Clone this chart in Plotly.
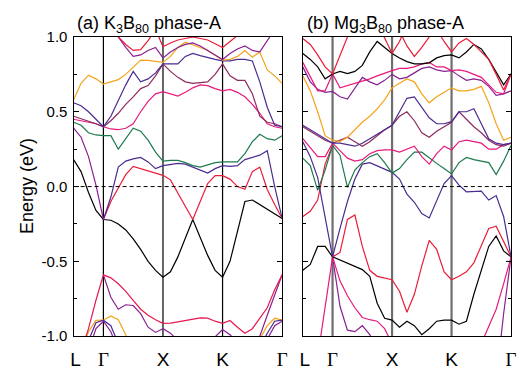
import plotly.graph_objects as go

N = None
# k-path positions (L, Gamma, X, K, Gamma) sampled grid
K = [0.0, 0.125, 0.25, 0.375, 0.5, 0.625, 0.75, 0.875, 1.0, 1.125, 1.25, 1.375, 1.5,
     1.625, 1.75, 1.875, 2.0, 2.125, 2.25, 2.375, 2.5, 2.625, 2.75, 2.875, 3.0,
     3.125, 3.25, 3.375, 3.5]
SYM_K = [0.0, 0.5, 1.5, 2.5, 3.5]
SYM_INNER = [0.5, 1.5, 2.5]
GAMMA = "<span style='font-family:Liberation Serif, Times New Roman, serif'>\u0393</span>"
SYM_LABELS = ["\u2009L", GAMMA, "X", "K", GAMMA]
Y_TICKS = [-1.0, -0.5, 0.0, 0.5, 1.0]
Y_TICK_TEXT = ["-1.0", "-0.5", "0.0", "0.5", "1.0"]
Y_MINOR = [-0.75, -0.25, 0.25, 0.75]

BLACK = "#000000"
RED = "#eb1c38"
PINK = "#e8197c"
VIOLET = "#8a1f93"
INDIGO = "#4b2b91"
PLUM = "#8d2a5e"
GREEN = "#1c7a4d"
ORANGE = "#f5a31a"

# ---------- panel (a) K3B80 ----------
A_BLACK = [0.18, 0.10, -0.04, -0.16, -0.22, -0.225, -0.25, -0.29, -0.35, -0.42, -0.50, -0.56, -0.606,
           -0.57, -0.47, -0.34, -0.22, -0.34, -0.46, -0.56, -0.606, -0.50, -0.30, -0.10, -0.09,
           -0.12, -0.15, -0.18, -0.213]
A_RED = [N, N, N, N, -0.22, -0.10, -0.01, 0.08, 0.135, 0.12, 0.10, 0.085, 0.075,
         0.045, -0.045, -0.13, -0.22, -0.10, 0.02, 0.073, 0.073, 0.05, 0.0, -0.018, 0.10,
         0.13, -0.02, -0.12, -0.213]
A_PURPLE = [0.39, 0.33, 0.20, 0.01, -0.22, N, N, N, N, N, N, N, N,
            N, N, N, N, N, N, N, N, N, N, N, N, N, N, N, N]
A_INDIGO_LOW = [N, N, N, N, -0.22, -0.07, 0.13, 0.17, 0.185, 0.195, 0.165, 0.12, 0.14,
                0.15, 0.155, 0.15, 0.13, 0.11, 0.09, 0.12, 0.14, 0.135, 0.14, 0.18, 0.195,
                0.21, 0.24, 0.0, -0.213]
A_GREEN = [0.43, 0.41, 0.36, 0.345, 0.34, 0.34, 0.25, 0.32, 0.39, 0.37, 0.31, 0.23, 0.17,
           0.175, 0.175, 0.16, 0.14, 0.13, 0.145, 0.16, 0.165, 0.165, 0.165, 0.22, 0.30,
           0.35, 0.32, 0.31, 0.34]
A_PINK = [0.45, 0.44, 0.43, 0.42, 0.40, 0.385, 0.38, 0.39, 0.42, 0.50, 0.57, 0.62, 0.635,
          0.62, 0.605, 0.63, 0.66, 0.68, 0.675, 0.655, 0.64, 0.65, 0.63, 0.60, 0.55,
          0.49, 0.42, 0.40, 0.39]
A_PLUM = [0.47, 0.455, 0.44, 0.42, 0.40, 0.44, 0.49, 0.55, 0.60, 0.655, 0.675, 0.74, 0.82,
          0.77, 0.73, 0.70, 0.69, 0.695, 0.70, 0.75, 0.82, 0.74, 0.71, 0.71, 0.62,
          0.47, 0.43, 0.42, 0.40]
A_INDIGO_UP = [0.56, 0.54, 0.50, 0.45, 0.40, 0.47, 0.58, 0.68, 0.77, 0.70, 0.72, 0.76, 0.82,
               0.82, 0.82, 0.87, 0.89, 0.875, 0.86, 0.85, 0.84, 0.84, 0.85, 0.85, 0.84,
               0.70, 0.53, 0.41, 0.40]
A_ORANGE = [0.58, 0.69, 0.745, 0.72, 0.685, 0.70, 0.715, 0.75, 0.80, 0.845, 0.843, 0.835, 0.83,
            0.87, 0.93, 0.965, 0.95, 0.93, 0.91, 0.88, 0.845, 0.85, 0.87, 0.91, 0.865,
            0.90, 0.78, 0.74, 0.69]
A_VIOLET_TOP = [N, N, N, N, N, 1.1, 1.0, 0.93, 0.87, 0.88, 0.91, 0.93, 0.86,
                0.90, 0.93, 0.95, 0.96, 0.94, 0.91, 0.88, 0.85, 0.89, 0.92, 0.94, 0.91,
                0.90, 0.98, 1.05, 1.1]
A_RED_TOP = [N, N, N, N, N, 1.1, 1.0, 0.95, 0.91, 0.915, 0.975, 1.05, 1.1,
             N, N, N, N, N, N, N, N, N, N, N, N, N, N, N, N]
A_RED_TOP2 = [N, N, N, N, N, N, N, N, N, N, N, 1.05, 0.935,
              0.96, 0.98, 0.99, 1.0, 0.99, 0.98, 0.955, 0.93, 0.97, 1.01, 1.05, N,
              N, N, N, N]
A_PINKRED_LOW = [-1.2, -1.1, -0.95, -0.76, -0.59, -0.61, -0.65, -0.70, -0.76, -0.82, -0.86, -0.89, -0.914,
                 -0.913, -0.905, -0.895, -0.885, -0.878, -0.88, -0.90, -0.914, -0.895, -0.94, -0.98, -0.95,
                 -0.88, -0.81, -0.69, -0.59]
A_VIOLET_LOW = [N, N, N, N, -0.59, -0.74, -0.82, -0.79, -0.795, -0.85, -0.94, -0.975, -0.95,
                -0.98, -1.03, -1.1, -1.15, -1.1, -1.05, -1.0, -0.956, -0.99, -1.05, -1.1, -1.1,
                -1.0, -0.86, -0.73, -0.59]
A_ORANGE_LOW = [N, -1.1, -0.97, -0.895, -0.893, -0.865, -0.89, -0.99, -1.15, N, N, N, N,
                N, N, N, N, N, N, N, N, N, N, N, -1.15,
                -1.02, -0.93, -0.88, -0.893]
A_INDIGO_DOME = [N, N, -1.03, -0.91, -0.893, -0.93, -1.05, N, N, N, N, N, N,
                 N, N, N, N, N, N, N, N, N, N, N, N,
                 -1.08, -0.98, -0.90, -0.893]
A_PLUM_DOME = [N, N, -1.1, -0.95, -0.90, -0.97, -1.1, N, N, N, N, N, N,
               N, N, N, N, N, N, N, N, N, N, N, N,
               -1.1, -1.02, -0.93, -0.90]

# ---------- panel (b) Mg3B80 ----------
B_BLACK_TOP = [0.89, 0.85, 0.80, 0.72, 0.753, 0.77, 0.755, 0.77, 0.81, 0.90, 0.97, 0.93, 0.89,
               0.86, 0.835, 0.82, 0.82, 0.827, 0.86, 0.875, 0.88, 0.86, 0.90, 0.95, 0.92,
               0.85, 0.76, 0.68, 0.753]
B_RED_TOP = [0.99, 0.95, 0.88, 0.80, 0.753, 0.88, 1.0, 1.1, 1.2, 1.2, 1.1, 0.99, 0.89,
             0.97, 1.08, 1.2, 1.2, 1.1, 1.05, 0.97, 0.90, 0.96, 0.99, 0.95, 0.90,
             0.85, 0.75, 0.645, 0.753]
B_RED_TOP2 = [N, N, N, N, N, N, N, N, N, N, N, N, N,
              1.04, 0.94, 0.87, 0.93, 1.0, 1.08, N, N, N, N, N, N,
              N, N, N, N]
B_PINK_UP = [0.83, 0.73, 0.64, 0.64, 0.753, 0.66, 0.675, 0.69, 0.70, 0.72, 0.74, 0.76, 0.775,
             0.79, 0.79, 0.80, 0.82, 0.83, 0.80, 0.80, 0.775, 0.78, 0.77, 0.75, 0.73,
             0.68, 0.63, 0.62, 0.753]
B_VIOLET_UP = [0.80, 0.70, 0.65, 0.63, 0.636, 0.60, 0.585, 0.66, 0.73, 0.70, 0.68, 0.71, 0.75,
               0.72, 0.73, 0.76, 0.79, 0.80, 0.78, 0.77, 0.775, 0.74, 0.71, 0.72, 0.71,
               0.67, 0.61, 0.62, 0.64]
B_ORANGE = [0.74, 0.64, 0.50, 0.34, 0.31, 0.30, 0.33, 0.38, 0.43, 0.47, 0.52, 0.58, 0.66,
            0.69, 0.72, 0.70, 0.62, 0.56, 0.60, 0.63, 0.66, 0.64, 0.64, 0.65, 0.67,
            0.56, 0.42, 0.31, 0.33]
B_INDIGO_MID = [0.41, 0.38, 0.35, 0.32, 0.29, 0.29, 0.28, 0.27, 0.29, 0.32, 0.35, 0.38, 0.41,
                0.50, 0.59, 0.60, 0.53, 0.46, 0.42, 0.42, 0.434, 0.50, 0.50, 0.52, 0.42,
                0.32, 0.29, 0.28, 0.29]
B_PLUM_MID = [0.40, 0.37, 0.34, 0.31, 0.29, 0.31, 0.33, 0.30, 0.27, 0.30, 0.34, 0.38, 0.41,
              0.47, 0.50, 0.44, 0.36, 0.33, 0.37, 0.40, 0.43, 0.50, 0.45, 0.40, 0.36,
              0.31, 0.28, 0.27, 0.29]
B_PINK_MID = [0.32, 0.26, 0.20, 0.20, 0.29, 0.24, 0.19, 0.17, 0.18, 0.22, 0.24, 0.245, 0.245,
              0.23, 0.25, 0.27, 0.20, 0.15, 0.22, 0.27, 0.245, 0.30, 0.31, 0.30, 0.29,
              0.25, 0.25, 0.28, 0.29]
B_GREEN = [0.19, 0.14, -0.025, 0.11, 0.275, 0.21, -0.005, 0.11, 0.16, 0.20, 0.22, 0.16, 0.09,
           0.12, 0.18, 0.23, 0.23, 0.19, 0.155, 0.12, 0.084, 0.16, 0.195, 0.18, 0.17,
           0.16, 0.08, 0.17, 0.275]
B_INDIGO_LOW = [0.30, 0.20, 0.06, -0.20, -0.47, -0.28, -0.10, 0.05, 0.15, 0.16, 0.14, 0.12, 0.095,
                0.05, -0.05, -0.105, -0.18, -0.21, -0.09, 0.02, 0.073, 0.01, -0.035, -0.03, -0.03,
                -0.09, -0.06, -0.20, -0.47]
B_RED_LG = [-0.20, -0.165, -0.09, 0.15, 0.275, N, N, N, N, N, N, N, N,
            N, N, N, N, N, N, N, N, N, N, N, N, N, N, N, N]
B_RED_LOW = [N, N, N, N, -0.47, -0.44, -0.22, -0.19, -0.40, -0.56, -0.60, -0.61, -0.623,
             -0.70, -0.84, -0.72, -0.53, -0.36, -0.42, -0.57, -0.623, -0.60, -0.57, -0.51, -0.40,
             -0.28, -0.265, -0.37, -0.47]
B_BLACK_LOW = [-0.56, -0.52, -0.40, -0.40, -0.47, -0.49, -0.51, -0.53, -0.555, -0.60, -0.78, -0.88, -0.893,
               -0.94, -0.90, -0.93, -0.99, -0.95, -0.90, -0.893, -0.893, -0.92, -0.90, -0.72, -0.56,
               -0.40, -0.33, -0.43, -0.47]
B_VIOLET_LOW = [N, N, N, N, -0.47, -0.80, -0.96, -0.97, -0.93, -0.99, -1.08, -1.2, N,
                N, N, N, N, N, N, N, N, N, N, N, N,
                N, -1.3, -0.85, -0.47]
B_PINK_LOW = [N, N, -1.14, -0.80, -0.47, -0.63, -0.73, -0.81, -0.875, -0.89, -0.90, -0.95, -1.05,
              N, N, N, N, N, N, N, N, N, N, N, -1.05,
              -0.93, -0.82, -0.65, -0.47]

PANEL_A = [
    (A_ORANGE_LOW, ORANGE), (A_PLUM_DOME, VIOLET), (A_INDIGO_DOME, INDIGO),
    (A_VIOLET_LOW, VIOLET), (A_PINKRED_LOW, "#e8174f"),
    (A_BLACK, BLACK), (A_PURPLE, VIOLET), (A_RED, RED), (A_INDIGO_LOW, INDIGO),
    (A_GREEN, GREEN), (A_PINK, PINK), (A_PLUM, PLUM), (A_INDIGO_UP, INDIGO),
    (A_ORANGE, ORANGE), (A_VIOLET_TOP, VIOLET), (A_RED_TOP, RED), (A_RED_TOP2, RED),
]
PANEL_B = [
    (B_VIOLET_LOW, VIOLET), (B_PINK_LOW, PINK), (B_BLACK_LOW, BLACK), (B_RED_LOW, RED),
    (B_RED_LG, RED), (B_INDIGO_LOW, INDIGO), (B_GREEN, GREEN), (B_PINK_MID, PINK),
    (B_PLUM_MID, PLUM), (B_INDIGO_MID, INDIGO), (B_ORANGE, ORANGE), (B_VIOLET_UP, VIOLET),
    (B_PINK_UP, PINK), (B_BLACK_TOP, BLACK), (B_RED_TOP, RED), (B_RED_TOP2, RED),
]

fig = go.Figure()
for vals, col in PANEL_A:
    fig.add_trace(go.Scatter(x=K, y=vals, mode="lines", line=dict(color=col, width=1.2),
                             xaxis="x", yaxis="y", showlegend=False, hoverinfo="skip"))
for vals, col in PANEL_B:
    fig.add_trace(go.Scatter(x=K, y=vals, mode="lines", line=dict(color=col, width=1.2),
                             xaxis="x2", yaxis="y2", showlegend=False, hoverinfo="skip"))

FONT = "Arial, Liberation Sans, sans-serif"
shapes = []
for kx in SYM_INNER:
    shapes.append(dict(type="line", xref="x", yref="y", x0=kx, x1=kx, y0=-1, y1=1,
                       line=dict(color="black", width=1.2), layer="below"))
    shapes.append(dict(type="line", xref="x2", yref="y2", x0=kx, x1=kx, y0=-1, y1=1,
                       line=dict(color="#6e6e6e", width=2.2), layer="below"))
for xr, yr in (("x", "y"), ("x2", "y2")):
    shapes.append(dict(type="line", xref=xr, yref=yr, x0=0, x1=3.5, y0=0, y1=0,
                       line=dict(color="black", width=1, dash="4px,3px"), layer="above"))

xcommon = dict(range=[0, 3.5], tickvals=SYM_K, ticktext=SYM_LABELS, ticks="",
               ticklabelstandoff=6,
               showgrid=False, zeroline=False, showline=True, mirror=True,
               linecolor="black", linewidth=1.3,
               tickfont=dict(family=FONT, size=19, color="black"))
ycommon = dict(range=[-1, 1], tickvals=Y_TICKS, ticktext=Y_TICK_TEXT, ticks="inside",
               ticklen=5, tickwidth=1.2, tickcolor="black", showgrid=False, zeroline=False,
               showline=True, mirror="allticks", linecolor="black", linewidth=1.3,
               minor=dict(tickvals=Y_MINOR, ticks="inside", ticklen=3, tickwidth=1, tickcolor="black"),
               tickfont=dict(family=FONT, size=15, color="black"))

fig.update_layout(
    width=527, height=375, margin=dict(l=0, r=0, t=0, b=0),
    paper_bgcolor="white", plot_bgcolor="white",
    xaxis=dict(domain=[68.3 / 527, 282.1 / 527], anchor="y", **xcommon),
    xaxis2=dict(domain=[303.3 / 527, 516.8 / 527], anchor="y2", **xcommon),
    yaxis=dict(domain=[1 - 342.7 / 375, 1 - 29.3 / 375], anchor="x", ticklabelstandoff=2, **ycommon),
    yaxis2=dict(domain=[1 - 342.7 / 375, 1 - 29.3 / 375], anchor="x2", showticklabels=False,
                **{k: v for k, v in ycommon.items() if k != "tickfont"}),
    shapes=shapes,
    annotations=[
        dict(text="(a) K<sub>3</sub>B<sub>80</sub> phase-A", xref="paper", yref="paper",
             x=70 / 527, y=1 - 16 / 375, xanchor="left", yanchor="middle", showarrow=False,
             font=dict(family=FONT, size=18, color="black")),
        dict(text="(b) Mg<sub>3</sub>B<sub>80</sub> phase-A", xref="paper", yref="paper",
             x=306 / 527, y=1 - 16 / 375, xanchor="left", yanchor="middle", showarrow=False,
             font=dict(family=FONT, size=18, color="black")),
        dict(text="Energy (eV)", xref="paper", yref="paper", x=20 / 527, y=1 - 186 / 375,
             xanchor="center", yanchor="middle", textangle=-90, showarrow=False,
             font=dict(family=FONT, size=18, color="black")),
    ],
)
fig.write_html("out.html")
